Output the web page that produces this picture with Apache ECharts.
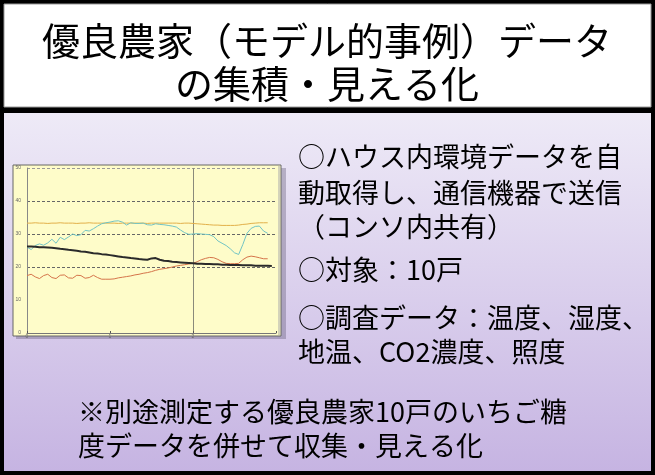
<!DOCTYPE html>
<html><head><meta charset="utf-8">
<script src="https://cdn.jsdelivr.net/npm/echarts@6/dist/echarts.min.js"></script>
<style>html,body{margin:0;padding:0;background:#000}#c{width:655px;height:475px}</style>
</head><body><div id="c"></div>
<script>
// ---- data ----
const xs = [0,0.05,0.1,0.15,0.2,0.25,0.3,0.35,0.4,0.45,0.5,0.55,0.6,0.65,0.7,0.75,0.8,0.85,0.9,0.95,
            1,1.05,1.1,1.15,1.2,1.25,1.3,1.35,1.4,1.45,1.5,1.55,1.6,1.65,1.7,1.75,1.8,1.85,1.9,1.95,
            2,2.05,2.1,2.15,2.2,2.25,2.3,2.35,2.4,2.45,2.5,2.55,2.6,2.65,2.7,2.75,2.8,2.85,2.9,2.95];
const cyanVals = [26.0,25.3,26.5,27.0,26.6,27.3,28.4,27.2,29.0,28.3,29.1,30.0,29.5,29.8,31.1,30.9,31.6,32.4,33.1,33.4,
                  33.6,33.9,34.0,33.6,32.7,33.4,33.2,33.2,33.3,32.8,32.7,33.1,32.9,32.8,32.6,32.4,32.1,31.2,30.4,29.9,
                  30.0,30.1,30.0,29.9,29.8,29.2,27.9,27.2,26.5,25.5,24.3,23.8,26.8,30.2,31.7,32.3,32.4,30.9,30.2,null];
const orangeVals = [33.3,33.3,33.4,33.3,33.3,33.2,33.3,33.3,33.4,33.3,33.3,33.3,33.2,33.3,33.3,33.4,33.3,33.3,33.3,33.3,
                    33.3,33.3,33.2,33.3,33.3,33.3,33.3,33.3,33.3,33.2,33.3,33.3,33.3,33.3,33.3,33.3,33.3,33.2,33.3,33.3,
                    33.2,33.1,33.0,32.9,32.8,32.7,32.7,32.6,32.6,32.6,32.6,32.7,32.9,33.0,33.2,33.3,33.4,33.4,33.4,null];
const blackVals = [26.2,26.2,26.1,26.0,26.0,25.9,25.8,25.7,25.5,25.4,25.2,25.1,24.9,24.7,24.6,24.4,24.2,24.1,23.9,23.8,
                   23.6,23.4,23.2,23.0,22.9,22.7,22.6,22.4,22.3,22.2,22.6,22.7,22.2,21.9,21.8,21.6,21.5,21.4,21.3,21.2,
                   21.1,21.0,21.0,20.9,20.9,20.8,20.8,20.7,20.7,20.6,20.6,20.6,20.5,20.5,20.5,20.4,20.4,20.4,20.4,20.3];
const redVals = [17.4,17.8,17.0,16.5,17.4,17.8,16.8,16.5,17.5,17.6,16.7,16.6,17.5,17.4,16.6,16.8,17.5,16.8,16.3,16.3,
                 16.3,16.4,16.7,16.9,17.1,17.3,17.6,17.8,18.1,18.3,18.6,19.0,19.3,19.5,19.7,20.0,20.3,20.5,20.7,20.9,
                 21.1,21.6,22.2,22.6,22.9,22.8,22.3,21.6,21.1,21.0,21.0,21.1,22.2,23.0,23.3,23.1,22.8,22.5,22.5,null];
const yTicks = [0,10,20,30,40,50];
const xTicks = [0,1,2,3];
const titleLines = ['優良農家（モデル的事例）データ','の集積・見える化'];
const rightLines = ['○ハウス内環境データを自','動取得し、通信機器で送信','（コンソ内共有）','○対象：10戸','○調査データ：温度、湿度、','地温、CO2濃度、照度'];
const bottomLines = ['※別途測定する優良農家10戸のいちご糖','度データを併せて収集・見える化'];

// ---- layout ----
const FONT = '"Noto Sans CJK JP", "Noto Sans", sans-serif';
const rightY = [157,193,227,270,318,352];
const bottomY = [412,446];
const pair = arr => xs.map((x,i)=>[x,arr[i]]);

const graphics = [
  {type:'rect', z:-10, shape:{x:0,y:0,width:655,height:475}, style:{fill:'#000'}},
  {type:'rect', z:-9, shape:{x:4,y:4,width:647,height:103}, style:{fill:'#fff', stroke:'#999', lineWidth:1}},
  {type:'rect', z:-9, shape:{x:4,y:113,width:647,height:358},
   style:{fill:new echarts.graphic.LinearGradient(0,0,0,1,[{offset:0,color:'#eeeaf7'},{offset:1,color:'#c6b4e2'}])}},
  {type:'rect', z:-8, shape:{x:16,y:168,width:270,height:171}, style:{fill:'rgba(90,80,110,0.35)'}},
  {type:'rect', z:-7, shape:{x:13,y:165,width:268,height:171}, style:{fill:'#fefcc9', stroke:'#666', lineWidth:1}},
  {type:'line', z:-6, shape:{x1:279,y1:166,x2:279,y2:335}, style:{stroke:'#aaa', lineWidth:1}}
];
titleLines.forEach((t,i)=>graphics.push({type:'text', z:10, style:{text:t, x:327, y:[41,84][i], textAlign:'center', textVerticalAlign:'middle', font:'38px '+FONT, fill:'#000'}}));
rightLines.forEach((t,i)=>graphics.push({type:'text', z:10, style:{text:t, x:298, y:rightY[i], textAlign:'left', textVerticalAlign:'middle', font:'27px '+FONT, fill:'#000'}}));
bottomLines.forEach((t,i)=>graphics.push({type:'text', z:10, style:{text:t, x:78, y:bottomY[i], textAlign:'left', textVerticalAlign:'middle', font:'27px '+FONT, fill:'#000'}}));

const chart = echarts.init(document.getElementById('c'), null, {renderer:'canvas'});
chart.setOption({
  animation:false,
  graphic:graphics,
  grid:{left:27, top:168, width:249, height:165, show:true, backgroundColor:'#fefcc9', borderWidth:0},
  xAxis:{type:'value', min:xTicks[0], max:xTicks[xTicks.length-1], interval:1,
    axisLine:{show:true, onZero:false, lineStyle:{color:'#777', width:1}},
    axisTick:{show:true, length:2, inside:true, lineStyle:{color:'#555'}},
    axisLabel:{fontSize:5, color:'#666', margin:1, formatter:v=>v<3?String(v):''},
    splitLine:{show:true, lineStyle:{color:['transparent','transparent','#8a8a7a','transparent'], width:1}}},
  yAxis:{type:'value', min:yTicks[0], max:yTicks[yTicks.length-1], interval:10,
    axisLine:{show:true, lineStyle:{color:'#888', width:1}},
    axisTick:{show:false},
    axisLabel:{fontSize:5, color:'#666', margin:6},
    splitLine:{show:true, lineStyle:{color:['transparent','transparent','#666','#666','#666','#999'], type:[3,2], width:1}}},
  series:[
    {type:'line', data:pair(orangeVals), symbol:'none', lineStyle:{color:'#e2b04a', width:1}, connectNulls:false},
    {type:'line', data:pair(cyanVals), symbol:'none', lineStyle:{color:'#72c4c4', width:1}},
    {type:'line', data:pair(redVals), symbol:'none', lineStyle:{color:'#d5744a', width:1}},
    {type:'line', data:pair(blackVals), symbol:'none', lineStyle:{color:'#2a2a2a', width:2}}
  ]
});
</script></body></html>
